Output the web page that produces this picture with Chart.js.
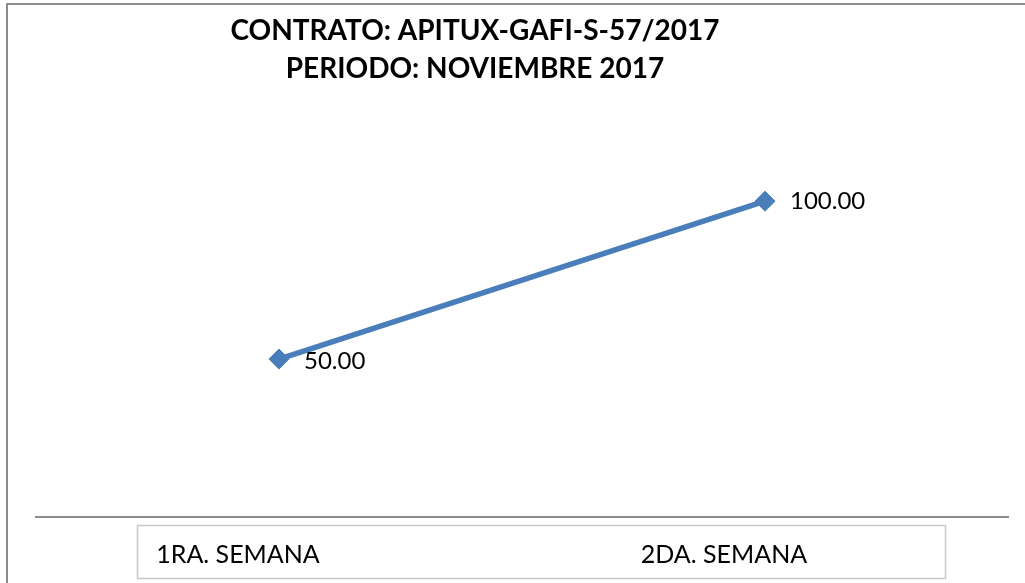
<!DOCTYPE html>
<html>
<head>
<meta charset="utf-8">
<script src="https://cdn.jsdelivr.net/npm/chart.js@4.4.1/dist/chart.umd.min.js"></script>
<style>
html,body{margin:0;padding:0;background:#fff;}
#wrap{width:1025px;height:583px;position:relative;}
</style>
</head>
<body>
<div id="wrap"><canvas id="c" width="1025" height="583"></canvas></div>
<script>
const categories = ['1RA. SEMANA', '2DA. SEMANA'];
const values = [50, 100];
const valueLabels = ['50.00', '100.00'];
const titleLines = ['CONTRATO: APITUX-GAFI-S-57/2017', 'PERIODO: NOVIEMBRE 2017'];

const decor = {
  id: 'decor',
  beforeDraw(chart) {
    const ctx = chart.ctx;
    ctx.save();
    ctx.fillStyle = '#fff';
    ctx.fillRect(0, 0, chart.width, chart.height);
    // outer border
    ctx.strokeStyle = '#8c8c8c';
    ctx.lineWidth = 2;
    ctx.beginPath();
    ctx.moveTo(7, 600);
    ctx.lineTo(7, 4);
    ctx.lineTo(1030, 4);
    ctx.stroke();
    // category box
    ctx.strokeStyle = '#c8c8c8';
    ctx.lineWidth = 1.5;
    ctx.strokeRect(137.5, 525.5, 808, 53);
    // title
    ctx.fillStyle = '#000';
    ctx.font = 'bold 28px Lato';
    ctx.textAlign = 'center';
    ctx.textBaseline = 'middle';
    ctx.fillText(titleLines[0], 475, 31);
    ctx.fillText(titleLines[1], 475, 69);
    ctx.restore();
  },
  afterDatasetsDraw(chart) {
    const ctx = chart.ctx;
    const meta = chart.getDatasetMeta(0);
    ctx.save();
    ctx.fillStyle = '#000';
    ctx.font = '24px Lato';
    ctx.textAlign = 'left';
    ctx.textBaseline = 'middle';
    meta.data.forEach((pt, i) => {
      ctx.fillText(valueLabels[i], pt.x + 25, pt.y + (i === 0 ? 2 : 0));
    });
    ctx.restore();
  }
};

new Chart(document.getElementById('c'), {
  type: 'line',
  data: {
    labels: categories,
    datasets: [{
      data: values,
      borderColor: '#4a7ebb',
      backgroundColor: '#4a7ebb',
      borderWidth: 5.5,
      pointStyle: 'rectRot',
      pointRadius: 10,
      pointHoverRadius: 10,
      pointBorderWidth: 1,
      pointBorderColor: '#4a7ebb',
      tension: 0
    }]
  },
  options: {
    responsive: false,
    animation: false,
    events: [],
    layout: { padding: { left: 36, right: 17, top: 138, bottom: 0 } },
    plugins: { legend: { display: false }, title: { display: false }, tooltip: { enabled: false } },
    scales: {
      x: {
        type: 'category',
        offset: true,
        grid: { display: false, drawTicks: false },
        border: { display: true, color: '#8c8c8c', width: 2 },
        ticks: { color: '#000', font: { family: 'Lato', size: 25 }, padding: 23, labelOffset: -41, maxRotation: 0 },
        afterFit(scale) { scale.height = 66; }
      },
      y: {
        display: false,
        min: 0,
        max: 120
      }
    }
  },
  plugins: [decor]
});
</script>
</body>
</html>
